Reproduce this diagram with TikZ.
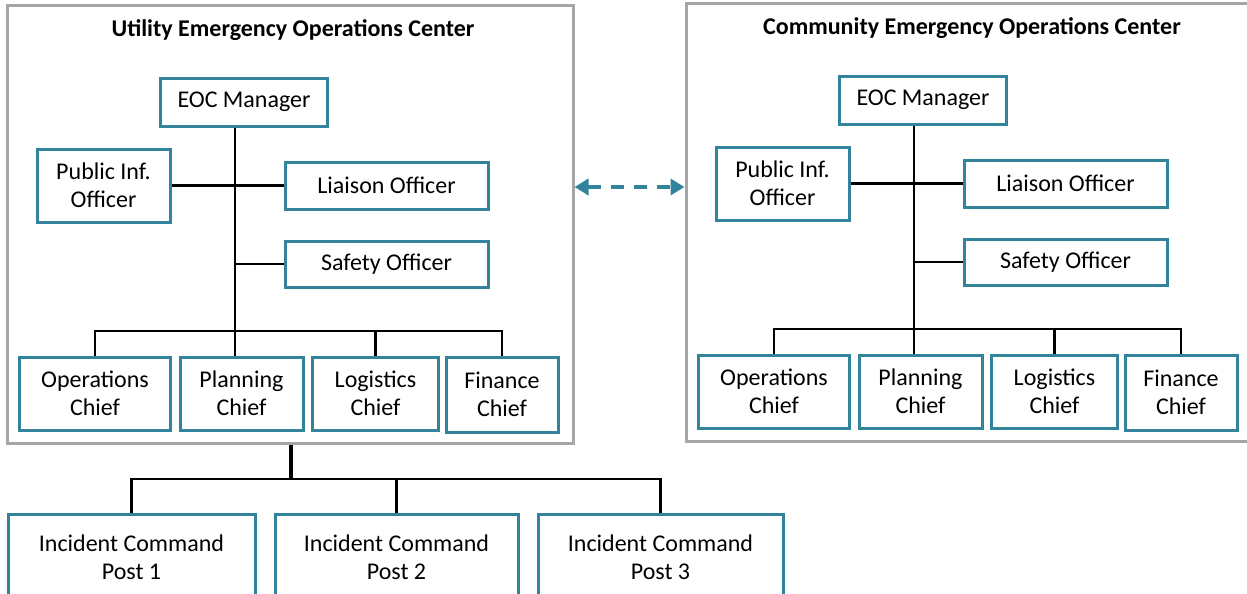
\documentclass[tikz,border=0pt]{standalone}
\usepackage{fontspec}
\setmainfont{Carlito}
\usetikzlibrary{arrows.meta,calc}
\definecolor{tealb}{HTML}{31849B}
\definecolor{frameg}{HTML}{A6A6A6}
\tikzset{
  box/.style={draw=tealb, line width=3pt, inner sep=0pt, align=center,
    font=\fontsize{24}{28}\selectfont},
  eocframe/.style={draw=frameg, line width=3pt, inner sep=0pt},
  conn/.style={draw=black, line width=2.7pt},
  stem/.style={draw=black, line width=4pt},
  titlefont/.style={font=\fontsize{24}{28}\bfseries\selectfont},
  link/.style={draw=tealb, line width=4pt, dash pattern=on 13pt off 10pt,
    {Triangle[length=14pt,width=16pt]}-{Triangle[length=14pt,width=16pt]}}
}
\newcommand{\eocunit}[2]{%
  \node[eocframe, minimum width=566pt, minimum height=437pt] (frame#1) at (290,224.5) {};
  \node[titlefont] (title#1) at (293,30) {#2};
  \node[box, minimum width=167pt, minimum height=48pt] (eoc#1) at (244,102) {EOC Manager};
  \node[box, minimum width=133pt, minimum height=73pt] (pio#1) at (103.5,185.5) {Public Inf.\\Officer};
  \node[box, minimum width=203pt, minimum height=47pt] (lia#1) at (386.5,185.5) {Liaison Officer};
  \node[box, minimum width=203pt, minimum height=46pt] (saf#1) at (386.5,264) {Safety Officer};
  \node[box, minimum width=151pt, minimum height=73pt] (ops#1) at (95,393.5) {Operations\\Chief};
  \node[box, minimum width=123pt, minimum height=73pt] (plan#1) at (241.5,393.5) {Planning\\Chief};
  \node[box, minimum width=126pt, minimum height=73pt] (log#1) at (375.5,393.5) {Logistics\\Chief};
  \node[box, minimum width=112pt, minimum height=75pt] (fin#1) at (502,394.5) {Finance\\Chief};
  \coordinate (bus#1) at (235,331);
  \draw[conn] (eoc#1.south -| bus#1) -- (bus#1);
  \draw[conn] (pio#1.east) -- (lia#1.west);
  \draw[conn] (bus#1 |- saf#1.west) -- (saf#1.west);
  \draw[conn] (ops#1.north) |- (bus#1) -| (fin#1.north);
  \draw[conn] (bus#1) -- (bus#1 |- plan#1.north);
  \draw[conn] (log#1.north) -- (log#1.north |- bus#1);
}
\begin{document}
\begin{tikzpicture}[x=1pt,y=-1pt]
\useasboundingbox (0,0) rectangle (1247,594);
\clip (0,0) rectangle (1247,594);
\eocunit{L}{Utility Emergency Operations Center}
\begin{scope}[shift={(679,-2)}]
\eocunit{R}{Community Emergency Operations Center}
\end{scope}
\coordinate (arrowy) at (0,187);
\draw[link] (frameL.east |- arrowy) -- (frameR.west |- arrowy);
\node[box, minimum width=247pt, minimum height=87pt] (icp1) at (131.5,557.5) {Incident Command\\Post 1};
\node[box, minimum width=243pt, minimum height=87pt] (icp2) at (396.5,557.5) {Incident Command\\Post 2};
\node[box, minimum width=245pt, minimum height=87pt] (icp3) at (660.5,557.5) {Incident Command\\Post 3};
\coordinate (ibus) at (291,479);
\draw[stem] (frameL.south -| ibus) -- (ibus);
\draw[conn] (icp1.north) |- (ibus) -| (icp3.north);
\draw[conn] (icp2.north) -- (icp2.north |- ibus);
\end{tikzpicture}
\end{document}
